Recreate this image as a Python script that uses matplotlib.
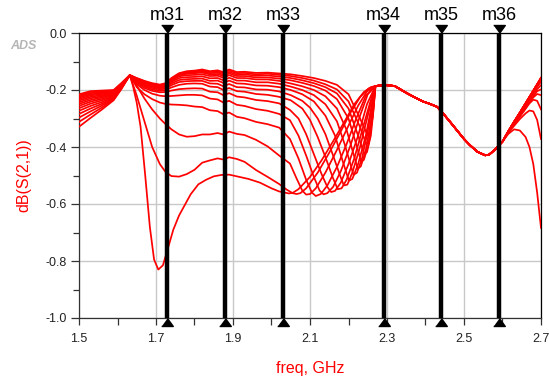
import numpy as np
import matplotlib
matplotlib.use("Agg")
import matplotlib.pyplot as plt
import matplotlib.transforms as mtransforms

plt.rcParams["font.family"] = ["Liberation Sans", "DejaVu Sans"]
plt.rcParams["axes.unicode_minus"] = False

# S21 sweep family (15 traces, k0 = top ... k14 = bottom), dB vs GHz
freq_left = [1.50, 1.53, 1.56, 1.59, 1.61, 1.632]
db_left = [
    [-0.215, -0.204, -0.202, -0.200, -0.176, -0.148],
    [-0.219, -0.207, -0.205, -0.202, -0.177, -0.148],
    [-0.223, -0.211, -0.208, -0.204, -0.178, -0.148],
    [-0.227, -0.215, -0.211, -0.206, -0.179, -0.148],
    [-0.232, -0.219, -0.214, -0.208, -0.180, -0.148],
    [-0.237, -0.224, -0.218, -0.210, -0.181, -0.148],
    [-0.243, -0.229, -0.222, -0.212, -0.182, -0.148],
    [-0.249, -0.235, -0.226, -0.215, -0.183, -0.148],
    [-0.256, -0.241, -0.231, -0.218, -0.185, -0.148],
    [-0.264, -0.248, -0.236, -0.221, -0.187, -0.148],
    [-0.273, -0.256, -0.242, -0.224, -0.189, -0.148],
    [-0.284, -0.265, -0.248, -0.227, -0.191, -0.148],
    [-0.297, -0.275, -0.254, -0.230, -0.193, -0.148],
    [-0.312, -0.286, -0.261, -0.233, -0.195, -0.148],
    [-0.329, -0.298, -0.268, -0.236, -0.197, -0.148],
]

freq_plateau = [1.65, 1.67, 1.69, 1.71, 1.725, 1.74, 1.76, 1.78, 1.80,
                1.82, 1.84, 1.86, 1.875, 1.89, 1.91, 1.93, 1.96, 1.99, 2.02]
db_plateau = [
    [-0.158, -0.168, -0.176, -0.181, -0.176, -0.158, -0.141, -0.134, -0.132,
     -0.128, -0.134, -0.131, -0.137, -0.128, -0.137, -0.136, -0.140, -0.139, -0.142],
    [-0.159, -0.170, -0.178, -0.183, -0.178, -0.160, -0.143, -0.137, -0.135,
     -0.132, -0.137, -0.135, -0.141, -0.132, -0.141, -0.140, -0.145, -0.143, -0.147],
    [-0.160, -0.171, -0.179, -0.184, -0.180, -0.162, -0.145, -0.140, -0.138,
     -0.135, -0.141, -0.139, -0.146, -0.137, -0.146, -0.145, -0.150, -0.149, -0.153],
    [-0.161, -0.172, -0.181, -0.186, -0.182, -0.165, -0.148, -0.143, -0.141,
     -0.139, -0.145, -0.144, -0.151, -0.142, -0.151, -0.151, -0.156, -0.156, -0.160],
    [-0.162, -0.174, -0.183, -0.188, -0.184, -0.168, -0.152, -0.148, -0.147,
     -0.145, -0.151, -0.150, -0.157, -0.148, -0.158, -0.158, -0.163, -0.163, -0.168],
    [-0.164, -0.177, -0.186, -0.191, -0.187, -0.172, -0.158, -0.155, -0.154,
     -0.152, -0.159, -0.158, -0.166, -0.157, -0.167, -0.167, -0.173, -0.173, -0.178],
    [-0.166, -0.180, -0.189, -0.194, -0.191, -0.177, -0.165, -0.162, -0.161,
     -0.160, -0.168, -0.167, -0.175, -0.167, -0.177, -0.178, -0.184, -0.185, -0.190],
    [-0.169, -0.184, -0.193, -0.198, -0.195, -0.183, -0.172, -0.169, -0.168,
     -0.168, -0.177, -0.178, -0.187, -0.179, -0.190, -0.191, -0.198, -0.199, -0.205],
    [-0.172, -0.188, -0.198, -0.203, -0.200, -0.191, -0.182, -0.178, -0.177,
     -0.178, -0.188, -0.190, -0.200, -0.193, -0.204, -0.206, -0.214, -0.217, -0.224],
    [-0.175, -0.193, -0.203, -0.208, -0.207, -0.202, -0.197, -0.195, -0.194,
     -0.195, -0.206, -0.208, -0.218, -0.211, -0.223, -0.226, -0.235, -0.239, -0.247],
    [-0.180, -0.200, -0.213, -0.220, -0.222, -0.221, -0.219, -0.217, -0.217,
     -0.219, -0.230, -0.233, -0.244, -0.238, -0.252, -0.256, -0.267, -0.273, -0.284],
    [-0.190, -0.215, -0.232, -0.244, -0.249, -0.251, -0.252, -0.254, -0.258,
     -0.260, -0.271, -0.274, -0.285, -0.279, -0.294, -0.299, -0.312, -0.320, -0.332],
    [-0.185, -0.230, -0.268, -0.300, -0.320, -0.338, -0.356, -0.364, -0.362,
     -0.356, -0.356, -0.351, -0.356, -0.346, -0.354, -0.358, -0.375, -0.398, -0.430],
    [-0.220, -0.310, -0.400, -0.460, -0.488, -0.502, -0.504, -0.495, -0.480,
     -0.455, -0.447, -0.440, -0.444, -0.436, -0.442, -0.452, -0.481, -0.505, -0.530],
]

# bottom trace has its own deep notch near 1.71 GHz
freq_dip14 = [1.64, 1.65, 1.66, 1.672, 1.684, 1.695, 1.706, 1.718, 1.73, 1.745, 1.76, 1.775,
              1.79, 1.81, 1.83, 1.85, 1.87, 1.89, 1.91, 1.94, 1.97, 2.00, 2.02]
db_dip14 = [-0.185, -0.245, -0.330, -0.500, -0.680, -0.795, -0.830, -0.815, -0.760, -0.690,
            -0.640, -0.603, -0.566, -0.531, -0.515, -0.503, -0.498, -0.497, -0.503, -0.512,
            -0.525, -0.545, -0.556]

notch_freq = [
    [2.05, 2.08, 2.11, 2.14, 2.17, 2.20, 2.23, 2.25, 2.256, 2.263, 2.27],
    [2.05, 2.08, 2.11, 2.14, 2.17, 2.20, 2.23, 2.246, 2.253, 2.262, 2.27],
    [2.05, 2.08, 2.11, 2.14, 2.17, 2.20, 2.225, 2.241, 2.248, 2.258, 2.265, 2.27],
    [2.05, 2.08, 2.11, 2.14, 2.17, 2.20, 2.22, 2.233, 2.24, 2.252, 2.262, 2.27],
    [2.05, 2.08, 2.11, 2.14, 2.17, 2.195, 2.212, 2.224, 2.232, 2.245, 2.258, 2.27],
    [2.05, 2.08, 2.11, 2.14, 2.17, 2.19, 2.205, 2.213, 2.222, 2.235, 2.252, 2.27],
    [2.05, 2.08, 2.11, 2.14, 2.165, 2.185, 2.201, 2.21, 2.225, 2.245, 2.27],
    [2.05, 2.08, 2.10, 2.12, 2.14, 2.16, 2.178, 2.188, 2.197, 2.21, 2.23, 2.25, 2.27],
    [2.05, 2.08, 2.10, 2.12, 2.14, 2.16, 2.172, 2.182, 2.195, 2.215, 2.24, 2.258, 2.27],
    [2.048, 2.07, 2.09, 2.11, 2.13, 2.145, 2.155, 2.165, 2.18, 2.20, 2.225, 2.248, 2.27],
    [2.048, 2.07, 2.09, 2.11, 2.125, 2.135, 2.145, 2.16, 2.18, 2.205, 2.23, 2.25, 2.27],
    [2.048, 2.07, 2.09, 2.105, 2.115, 2.128, 2.145, 2.17, 2.195, 2.22, 2.245, 2.27],
    [2.048, 2.065, 2.08, 2.09, 2.10, 2.115, 2.14, 2.17, 2.20, 2.225, 2.248, 2.27],
    [2.04, 2.055, 2.065, 2.075, 2.09, 2.12, 2.15, 2.18, 2.205, 2.23, 2.252, 2.27],
    [2.045, 2.055, 2.07, 2.10, 2.13, 2.16, 2.19, 2.215, 2.24, 2.258, 2.27],
]
notch_db = [
    [-0.145, -0.151, -0.158, -0.168, -0.182, -0.215, -0.300, -0.360, -0.350, -0.290, -0.186],
    [-0.151, -0.158, -0.167, -0.180, -0.198, -0.240, -0.330, -0.390, -0.385, -0.300, -0.186],
    [-0.158, -0.166, -0.176, -0.190, -0.212, -0.265, -0.360, -0.425, -0.418, -0.360, -0.270, -0.186],
    [-0.166, -0.175, -0.186, -0.202, -0.232, -0.300, -0.390, -0.452, -0.445, -0.390, -0.290, -0.186],
    [-0.177, -0.187, -0.200, -0.222, -0.265, -0.340, -0.420, -0.476, -0.468, -0.410, -0.310, -0.186],
    [-0.188, -0.200, -0.218, -0.250, -0.310, -0.390, -0.460, -0.498, -0.490, -0.440, -0.330, -0.186],
    [-0.200, -0.215, -0.240, -0.290, -0.360, -0.450, -0.518, -0.512, -0.460, -0.360, -0.186],
    [-0.218, -0.238, -0.262, -0.300, -0.355, -0.430, -0.500, -0.535, -0.532, -0.490, -0.400, -0.290, -0.186],
    [-0.236, -0.265, -0.305, -0.365, -0.435, -0.510, -0.548, -0.545, -0.515, -0.440, -0.320, -0.235, -0.186],
    [-0.270, -0.300, -0.355, -0.425, -0.495, -0.540, -0.558, -0.554, -0.525, -0.460, -0.360, -0.250, -0.186],
    [-0.306, -0.360, -0.430, -0.505, -0.553, -0.566, -0.562, -0.540, -0.485, -0.395, -0.290, -0.215, -0.186],
    [-0.372, -0.440, -0.515, -0.560, -0.572, -0.565, -0.535, -0.470, -0.390, -0.300, -0.220, -0.186],
    [-0.458, -0.510, -0.553, -0.567, -0.565, -0.545, -0.490, -0.410, -0.325, -0.255, -0.205, -0.186],
    [-0.550, -0.562, -0.565, -0.562, -0.545, -0.490, -0.420, -0.345, -0.280, -0.225, -0.195, -0.186],
    [-0.563, -0.561, -0.548, -0.505, -0.447, -0.380, -0.310, -0.250, -0.207, -0.190, -0.186],
]

# shared part above 2.27 GHz
freq_tail = [2.285, 2.29, 2.32, 2.335, 2.35, 2.375, 2.395, 2.41, 2.43, 2.445,
             2.47, 2.50, 2.515, 2.535, 2.555, 2.565, 2.58, 2.59]
db_tail = [-0.184, -0.182, -0.186, -0.198, -0.210, -0.228, -0.241, -0.248, -0.259, -0.281,
           -0.322, -0.372, -0.393, -0.417, -0.429, -0.427, -0.410, -0.395]

freq_end = [2.60, 2.615, 2.63, 2.645, 2.66, 2.67, 2.68, 2.69, 2.70]
db_end = [
    [-0.381, -0.345, -0.311, -0.279, -0.246, -0.224, -0.202, -0.179, -0.156],
    [-0.381, -0.345, -0.312, -0.280, -0.247, -0.225, -0.203, -0.181, -0.159],
    [-0.381, -0.345, -0.312, -0.280, -0.247, -0.225, -0.203, -0.181, -0.159],
    [-0.381, -0.345, -0.312, -0.280, -0.247, -0.225, -0.203, -0.181, -0.159],
    [-0.381, -0.345, -0.312, -0.280, -0.247, -0.225, -0.203, -0.181, -0.159],
    [-0.381, -0.345, -0.312, -0.280, -0.247, -0.225, -0.203, -0.181, -0.159],
    [-0.381, -0.345, -0.312, -0.280, -0.247, -0.225, -0.203, -0.181, -0.159],
    [-0.381, -0.345, -0.312, -0.280, -0.247, -0.225, -0.203, -0.181, -0.160],
    [-0.381, -0.346, -0.313, -0.282, -0.250, -0.229, -0.208, -0.189, -0.171],
    [-0.381, -0.346, -0.315, -0.285, -0.254, -0.234, -0.215, -0.197, -0.183],
    [-0.381, -0.347, -0.317, -0.288, -0.259, -0.240, -0.222, -0.204, -0.198],
    [-0.381, -0.348, -0.319, -0.291, -0.262, -0.243, -0.226, -0.214, -0.218],
    [-0.381, -0.349, -0.321, -0.294, -0.266, -0.247, -0.234, -0.238, -0.268],
    [-0.381, -0.350, -0.326, -0.302, -0.282, -0.272, -0.275, -0.305, -0.372],
    [-0.381, -0.354, -0.338, -0.342, -0.365, -0.400, -0.460, -0.560, -0.684],
]

marker_freq = [1.729, 1.880, 2.031, 2.291, 2.441, 2.591]
marker_names = ["m31", "m32", "m33", "m34", "m35", "m36"]

x_major = [1.5, 1.7, 1.9, 2.1, 2.3, 2.5, 2.7]
x_minor = [1.6, 1.8, 2.0, 2.2, 2.4, 2.6]
y_major = [0.0, -0.2, -0.4, -0.6, -0.8, -1.0]
y_minor = [-0.1, -0.3, -0.5, -0.7, -0.9]

fig = plt.figure(figsize=(5.49, 3.85), dpi=100)
ax = fig.add_axes([79 / 549, 1 - 318 / 385, 462 / 549, 285 / 385])

for k in range(len(db_left)):
    if k < len(db_plateau):
        body_f, body_d = freq_plateau, db_plateau[k]
    else:
        body_f, body_d = freq_dip14, db_dip14
    f = np.concatenate([freq_left, body_f, notch_freq[k], freq_tail, freq_end])
    d = np.concatenate([db_left[k], body_d, notch_db[k], db_tail, db_end[k]])
    ax.plot(f, d, color="#ff0000", lw=1.25, solid_joinstyle="round", zorder=3)

ax.set_xlim(1.5, 2.7)
ax.set_ylim(-1.0, 0.0)
ax.set_xticks(x_major)
ax.set_xticks(x_minor, minor=True)
ax.set_yticks(y_major)
ax.set_yticks(y_minor, minor=True)
ax.set_yticklabels([f"{v:.1f}" for v in y_major])
ax.set_xticklabels([f"{v:.1f}" for v in x_major])
ax.grid(which="major", color="#c8c8c8", lw=1.0, zorder=0)
ax.set_axisbelow(True)

ax.tick_params(axis="both", which="both", direction="out", colors="#333333",
               labelcolor="#222222", labelsize=9, width=0.9)
ax.tick_params(axis="x", which="both", length=5, pad=6)
ax.tick_params(axis="y", which="major", length=6, pad=3)
ax.tick_params(axis="y", which="minor", length=4.5)
for side in ["top", "right"]:
    ax.spines[side].set_color("black")
    ax.spines[side].set_linewidth(0.9)
for side in ["left", "bottom"]:
    ax.spines[side].set_color("#333333")
    ax.spines[side].set_linewidth(0.9)

# markers: thick vertical bars with triangles sitting outside the frame
tri_down = [(-0.8, 1.1), (0.8, 1.1), (0.0, 0.0)]
tri_up = [(-0.8, -1.1), (0.8, -1.1), (0.0, 0.0)]
label_tf = mtransforms.blended_transform_factory(ax.transData, ax.transAxes)
for fm, name in zip(marker_freq, marker_names):
    ax.plot([fm, fm], [0.0, -1.0], color="black", lw=3.2, solid_capstyle="butt", zorder=5)
    ax.plot([fm], [0.0], marker=tri_down, ms=11.5, color="black", clip_on=False, zorder=6)
    ax.plot([fm], [-1.0], marker=tri_up, ms=11.5, color="black", clip_on=False, zorder=6)
    ax.text(fm, 1.063, name, transform=label_tf, ha="center", va="center", fontsize=13)

fig.text(24 / 549, 1 - 175 / 385, "dB(S(2,1))", rotation=90, color="#ff0000",
         fontsize=11.5, ha="center", va="center")
fig.text(310 / 549, 1 - 368 / 385, "freq, GHz", color="#ff0000",
         fontsize=11.5, ha="center", va="center")
fig.text(23 / 549, 1 - 46 / 385, "ADS", color="#a8a8a8", fontsize=9,
         fontweight="bold", style="italic", ha="center", va="center", alpha=0.85)

fig.savefig("out.png", dpi=100)
